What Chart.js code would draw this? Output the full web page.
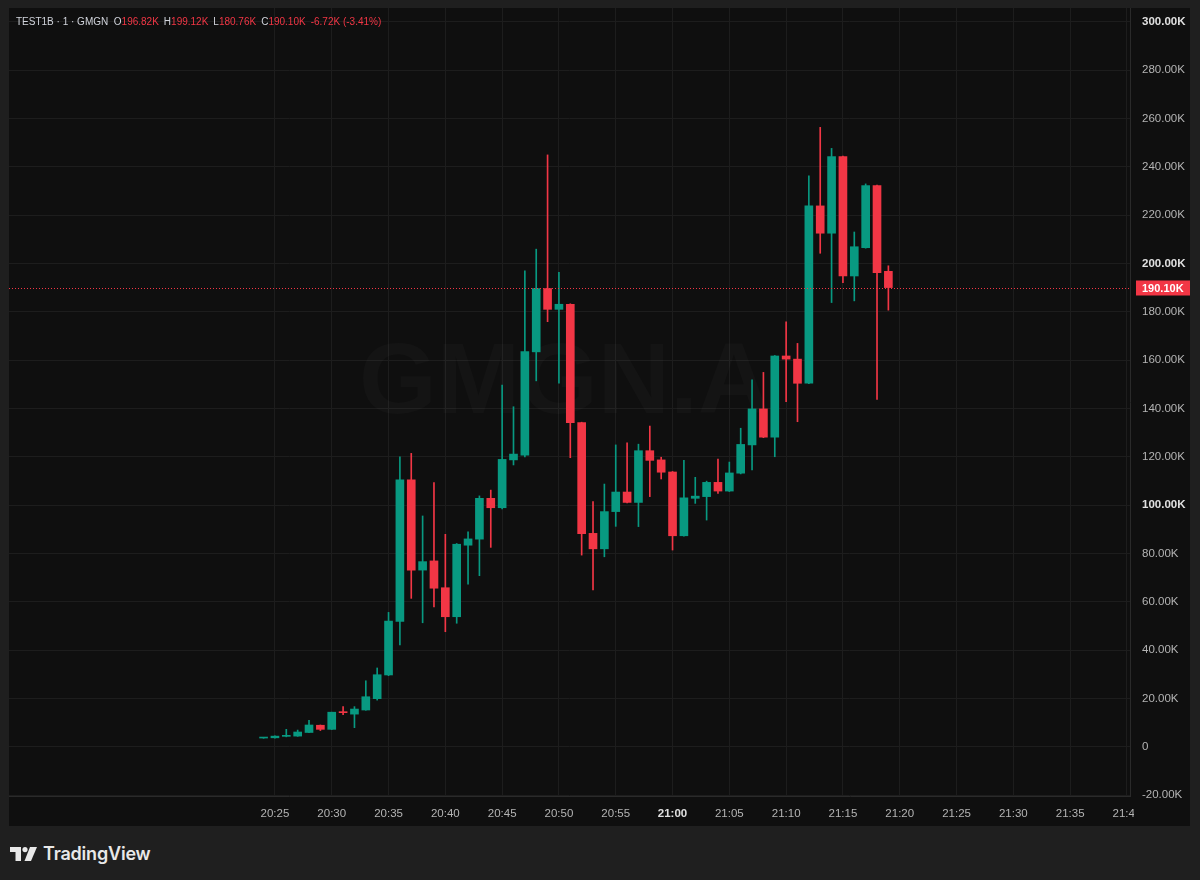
<!DOCTYPE html>
<html>
<head>
<meta charset="utf-8">
<script src="https://cdn.jsdelivr.net/npm/chart.js@4.4.1/dist/chart.umd.min.js"></script>
<style>
  html, body { margin: 0; padding: 0; background: #1f1f1f; }
  body { width: 1200px; height: 880px; position: relative; overflow: hidden; font-family: "Liberation Sans", Arial, sans-serif; }
  #panel { position: absolute; left: 9px; top: 8px; width: 1181px; height: 818px; background: #0f0f0f; }
  #panel canvas { position: absolute; left: 0; top: 0; }
  #legend { position: absolute; left: 7px; top: 8px; font-size: 10px; line-height: 12px; color: #d1d4dc; white-space: nowrap; }
  #legend .v { color: #f23645; margin-right: 5px; }
  #logo { position: absolute; left: 10px; top: 843px; display: flex; align-items: center; }
  #logo span { font-family: Inter, "Open Sans", sans-serif; font-weight: 600; font-size: 18px; color: #e8e8e8; margin-left: 6px; letter-spacing: -0.2px; }
</style>
</head>
<body>
<div id="panel">
  <canvas id="chart" width="1181" height="818"></canvas>
  <div id="legend">TEST1B · 1 · GMGN&nbsp;&nbsp;O<span class="v">196.82K</span>H<span class="v">199.12K</span>L<span class="v">180.76K</span>C<span class="v">190.10K</span><span class="v">-6.72K (-3.41%)</span></div>
</div>
<div id="logo">
  <svg width="27" height="14" viewBox="0 0 27 14">
    <path d="M0 0 H11 V14 H5.5 V5 H0 Z" fill="#e8e8e8"/>
    <circle cx="15" cy="2.6" r="2.6" fill="#e8e8e8"/>
    <path d="M20 0 H27 L21 14 H14.5 Z" fill="#e8e8e8"/>
  </svg>
  <span>TradingView</span>
</div>
<script>
// one-minute candles, values in thousands
const times = ['20:24','20:25','20:26','20:27','20:28','20:29','20:30','20:31','20:32','20:33',
  '20:34','20:35','20:36','20:37','20:38','20:39','20:40','20:41','20:42','20:43',
  '20:44','20:45','20:46','20:47','20:48','20:49','20:50','20:51','20:52','20:53',
  '20:54','20:55','20:56','20:57','20:58','20:59','21:00','21:01','21:02','21:03',
  '21:04','21:05','21:06','21:07','21:08','21:09','21:10','21:11','21:12','21:13',
  '21:14','21:15','21:16','21:17','21:18','21:19'];
const open = [3.7, 3.8, 4.4, 4.5, 6.0, 9.0, 7.3, 14.6, 13.6, 15.3,
  20.0, 29.8, 52.0, 110.5, 73.2, 77.0, 65.9, 53.9, 83.5, 86.0,
  102.9, 99.0, 118.8, 120.8, 163.5, 189.7, 181.1, 183.2, 134.2, 88.4,
  82.0, 97.4, 105.5, 101.2, 122.6, 118.8, 113.8, 87.4, 102.9, 103.6,
  109.5, 105.9, 113.3, 125.0, 139.9, 128.2, 161.8, 160.5, 150.5, 223.9,
  212.6, 244.3, 194.9, 206.6, 232.3, 196.82];
const high = [3.9, 4.6, 7.3, 7.0, 11.0, 9.1, 14.4, 16.7, 16.7, 27.4,
  32.7, 55.7, 120.1, 121.5, 95.6, 109.4, 88.0, 84.2, 89.0, 103.9,
  106.3, 149.8, 140.8, 197.0, 206.0, 245.0, 196.4, 183.4, 134.4, 101.5,
  108.8, 125.0, 125.9, 125.3, 132.8, 119.9, 114.0, 118.6, 111.6, 110.0,
  119.1, 117.9, 131.9, 151.9, 155.0, 162.0, 175.9, 167.0, 236.3, 256.4,
  247.7, 244.5, 213.1, 233.0, 232.5, 199.12];
const low = [3.6, 3.6, 4.2, 4.4, 5.9, 6.8, 7.2, 13.4, 8.0, 15.2,
  19.4, 29.5, 42.2, 61.5, 51.4, 58.0, 47.7, 51.2, 67.4, 70.9,
  82.6, 98.5, 116.7, 120.0, 151.5, 176.0, 150.5, 119.7, 79.4, 65.0,
  78.7, 91.3, 101.0, 91.2, 103.6, 110.9, 81.5, 87.2, 100.8, 93.9,
  104.9, 105.7, 113.0, 114.6, 128.0, 120.1, 142.9, 134.6, 150.3, 204.3,
  183.9, 192.1, 184.6, 206.4, 143.8, 180.76];
const close = [3.9, 4.5, 4.6, 6.2, 9.1, 7.3, 14.4, 14.2, 15.7, 20.8,
  29.9, 52.1, 110.5, 73.2, 76.7, 65.7, 53.9, 83.9, 86.1, 102.9,
  99.0, 119.0, 121.2, 163.6, 189.7, 181.1, 183.2, 134.2, 88.3, 82.0,
  97.4, 105.5, 101.2, 122.6, 118.6, 113.7, 87.4, 103.1, 103.8, 109.5,
  105.9, 113.4, 125.2, 139.9, 128.2, 161.8, 160.5, 150.5, 223.9, 212.6,
  244.3, 194.9, 207.0, 232.3, 196.3, 190.10];

const xTickLabels = ['20:25','20:30','20:35','20:40','20:45','20:50','20:55','21:00',
  '21:05','21:10','21:15','21:20','21:25','21:30','21:35','21:40'];
const yTickValues = [-20, 0, 20, 40, 60, 80, 100, 120, 140, 160, 180, 200, 220, 240, 260, 280, 300];

const UP = '#089981';
const DOWN = '#f23645';
const FONT = '"Liberation Sans", Arial, sans-serif';

// minutes after 20:00
function toMin(t) {
    const parts = t.split(':').map(Number);
    return (parts[0] - 20) * 60 + parts[1];
}

const colors = times.map((t, i) => close[i] >= open[i] ? UP : DOWN);
const lastClose = close[close.length - 1];

const overlay = {
    id: 'overlay',
    beforeDatasetsDraw(chart) {
        // faint symbol watermark
        const ctx = chart.ctx;
        const a = chart.chartArea;
        ctx.save();
        ctx.font = 'bold 100px ' + FONT;
        ctx.fillStyle = 'rgba(255,255,255,0.025)';
        ctx.textAlign = 'center';
        ctx.textBaseline = 'middle';
        ctx.fillText('GMGN.A', (a.left + a.right) / 2 - 5, (a.top + a.bottom) / 2 - 17);
        ctx.restore();
    },
    afterDraw(chart) {
        const ctx = chart.ctx;
        const a = chart.chartArea;
        const y = Math.round(chart.scales.y.getPixelForValue(lastClose)) + 0.5;
        ctx.save();
        // last price line
        ctx.strokeStyle = DOWN;
        ctx.lineWidth = 1;
        ctx.setLineDash([1, 2]);
        ctx.beginPath();
        ctx.moveTo(a.left, y);
        ctx.lineTo(a.right, y);
        ctx.stroke();
        ctx.setLineDash([]);
        // hide the clipped time label under the price scale
        ctx.fillStyle = '#0f0f0f';
        ctx.fillRect(a.right + 4, a.bottom + 8, chart.width - a.right, chart.height - a.bottom);
        // price label
        ctx.fillStyle = DOWN;
        ctx.fillRect(a.right + 6, y - 8, 54, 15);
        ctx.fillStyle = '#ffffff';
        ctx.font = 'bold 11px ' + FONT;
        ctx.textBaseline = 'middle';
        ctx.textAlign = 'left';
        ctx.fillText(lastClose.toFixed(2) + 'K', a.right + 12, y);
        ctx.restore();
    }
};

new Chart(document.getElementById('chart'), {
    type: 'bar',
    data: {
        datasets: [{
            label: 'wick',
            data: times.map((t, i) => ({ x: toMin(t), y: [low[i], high[i]] })),
            backgroundColor: colors,
            barThickness: 1,
            grouped: false,
            order: 2
        }, {
            label: 'body',
            data: times.map((t, i) => ({ x: toMin(t), y: [open[i], close[i]] })),
            backgroundColor: colors,
            barThickness: 8,
            minBarLength: 1,
            grouped: false,
            order: 1
        }]
    },
    options: {
        responsive: false,
        animation: false,
        events: [],
        layout: { padding: 0 },
        plugins: { legend: { display: false }, tooltip: { enabled: false } },
        scales: {
            x: {
                type: 'linear',
                min: 1.59,
                max: 100.27,
                offset: false,
                afterBuildTicks: s => { s.ticks = xTickLabels.map(t => ({ value: toMin(t) })); },
                afterFit: s => { s.height = 30; s.paddingLeft = 0; s.paddingRight = 0; },
                grid: { offset: false, color: '#1d1d1d', drawTicks: false },
                border: { color: '#2a2a2a' },
                ticks: {
                    padding: 11,
                    maxRotation: 0,
                    autoSkip: false,
                    color: ctx => ctx.tick && ctx.tick.value === 60 ? '#e0e0e0' : '#b4b4b4',
                    font: ctx => ({ family: FONT, size: 11.5, weight: ctx.tick && ctx.tick.value === 60 ? 'bold' : 'normal' }),
                    callback: (v, i) => xTickLabels[i]
                }
            },
            y: {
                position: 'right',
                min: -20.28,
                max: 305.79,
                afterBuildTicks: s => { s.ticks = yTickValues.map(v => ({ value: v })); },
                afterFit: s => { s.width = 60; s.paddingTop = 0; s.paddingBottom = 0; },
                grid: { color: '#1d1d1d', drawTicks: false },
                border: { color: '#2a2a2a' },
                ticks: {
                    padding: 12,
                    color: ctx => ctx.tick && ctx.tick.value % 100 === 0 && ctx.tick.value > 0 ? '#e0e0e0' : '#b4b4b4',
                    font: ctx => ({ family: FONT, size: 11.5, weight: ctx.tick && ctx.tick.value % 100 === 0 && ctx.tick.value > 0 ? 'bold' : 'normal' }),
                    callback: v => v === 0 ? '0' : v.toFixed(2) + 'K'
                }
            }
        }
    },
    plugins: [overlay]
});
</script>
</body>
</html>
